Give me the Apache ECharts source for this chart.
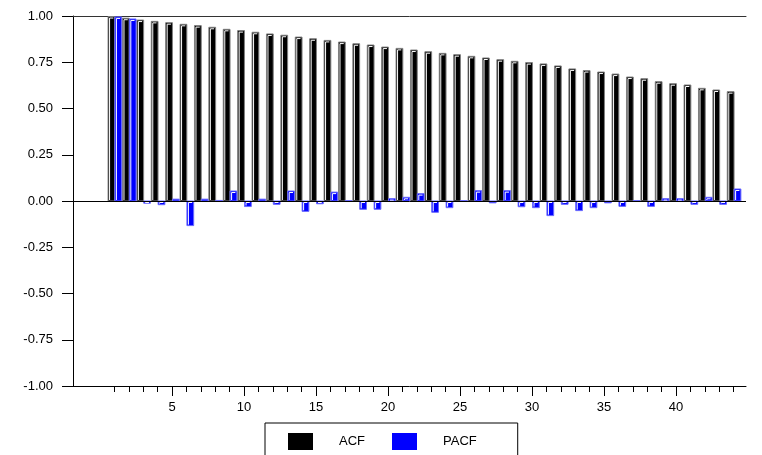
<!DOCTYPE html>
<html>
<head>
<meta charset="utf-8">
<script src="https://cdn.jsdelivr.net/npm/echarts@6/dist/echarts.min.js"></script>
<style>html,body{margin:0;padding:0;background:#fff}#c{width:762px;height:455px}</style>
</head>
<body>
<div id="c"></div>
<script>
const lags = [1,2,3,4,5,6,7,8,9,10,11,12,13,14,15,16,17,18,19,20,21,22,23,24,25,26,27,28,29,30,31,32,33,34,35,36,37,38,39,40,41,42,43,44];
const acfValues = [0.997,0.988,0.978,0.971,0.964,0.955,0.948,0.939,0.928,0.921,0.912,0.903,0.896,0.886,0.877,0.868,0.859,0.850,0.843,0.832,0.825,0.816,0.807,0.798,0.791,0.782,0.773,0.764,0.755,0.748,0.741,0.730,0.714,0.705,0.697,0.686,0.670,0.661,0.645,0.634,0.627,0.609,0.600,0.591];
const pacfValues = [0.995,0.984,-0.012,-0.02,0.01,-0.133,0.01,0.003,0.054,-0.03,0.01,-0.018,0.054,-0.056,-0.015,0.048,0.002,-0.045,-0.045,0.013,0.02,0.04,-0.061,-0.036,0.002,0.056,-0.01,0.056,-0.031,-0.036,-0.079,-0.018,-0.052,-0.036,-0.01,-0.029,0.002,-0.029,0.013,0.013,-0.018,0.02,-0.018,0.065];
const yTicks = [-1,-0.75,-0.5,-0.25,0,0.25,0.5,0.75,1];
const majorTickLabels = [5,10,15,20,25,30,35,40];

const FONT = 'Liberation Sans, Arial, sans-serif';
const chart = echarts.init(document.getElementById('c'), null, {renderer:'canvas'});

function makeRender(side, fill, stroke) {
  return function (params, api) {
    const lag = api.value(0), v = api.value(1);
    const base = api.coord([lag, 0]);
    const top = api.coord([lag, v]);
    const u = api.size([1, 0])[0];
    const w = 0.47 * u;
    const x0 = side < 0 ? base[0] - 0.44 * u : base[0] + 0.035 * u;
    const y0 = Math.min(base[1], top[1]);
    const h = Math.abs(top[1] - base[1]);
    const children = [
      {type:'rect', shape:{x:x0, y:y0, width:w, height:h}, style:{fill:fill, stroke:stroke, lineWidth:1}}
    ];
    if (h > 2) {
      children.push({type:'polyline', shape:{points:[[x0+1.5, y0+h-1],[x0+1.5, y0+1.5],[x0+w-1.5, y0+1.5]]},
        style:{stroke:'#ffffff', fill:null, lineWidth:1}});
    }
    return {type:'group', children:children};
  };
}

const xMin = -1.875, xMax = 44.86;

const option = {
  animation:false,
  backgroundColor:'#fff',
  grid:[
    {left:73, top:16, width:673, height:370, show:false},
    {left:114.4, top:16, width:619.2, height:370, show:false},
    {left:172, top:16, width:504, height:370, show:false}
  ],
  xAxis:[
    {gridIndex:0, type:'value', min:xMin, max:xMax, position:'bottom',
      axisLine:{show:true, onZero:false, lineStyle:{color:'#000', width:1}},
      axisTick:{show:false}, axisLabel:{show:false}, splitLine:{show:false}},
    {gridIndex:0, type:'value', min:xMin, max:xMax, position:'top',
      axisLine:{show:true, onZero:false, lineStyle:{color:'#333', width:1}},
      axisTick:{show:false}, axisLabel:{show:false}, splitLine:{show:false}},
    {gridIndex:1, type:'value', min:lags[0], max:lags[lags.length-1], interval:1, position:'bottom',
      axisLine:{show:false, onZero:false},
      axisTick:{show:true, length:6, lineStyle:{color:'#000', width:1}},
      axisLabel:{show:false}, splitLine:{show:false}},
    {gridIndex:2, type:'value', min:majorTickLabels[0], max:majorTickLabels[majorTickLabels.length-1], interval:5, position:'bottom',
      axisLine:{show:false, onZero:false},
      axisTick:{show:true, length:10, lineStyle:{color:'#000', width:1}},
      axisLabel:{show:true, margin:15, color:'#000', fontSize:13, fontFamily:FONT,
        formatter:function(v){ return majorTickLabels.indexOf(v) >= 0 ? String(v) : ''; }},
      splitLine:{show:false}}
  ],
  yAxis:[
    {gridIndex:0, type:'value', min:yTicks[0], max:yTicks[yTicks.length-1], interval:0.25,
      axisLine:{show:true, onZero:false, lineStyle:{color:'#000', width:1}},
      axisTick:{show:true, length:11, lineStyle:{color:'#000', width:1}},
      axisLabel:{show:true, margin:20, color:'#000', fontSize:13, fontFamily:FONT,
        formatter:function(v){ return v.toFixed(2); }},
      splitLine:{show:false}},
    {gridIndex:1, type:'value', min:-1, max:1, show:false},
    {gridIndex:2, type:'value', min:-1, max:1, show:false}
  ],
  legend:{
    data:['ACF','PACF'],
    left:265, top:423,
    orient:'horizontal',
    icon:'rect',
    itemWidth:25, itemHeight:17,
    itemGap:27,
    padding:[10,41,20,23],
    borderColor:'#000', borderWidth:1, borderRadius:0,
    backgroundColor:'#fff',
    itemStyle:{borderWidth:0},
    textStyle:{color:'#000', fontSize:13, fontFamily:FONT, padding:[0,0,0,21]},
    selectedMode:false
  },
  series:[
    {name:'ACF', type:'custom', xAxisIndex:0, yAxisIndex:0,
      renderItem:makeRender(-1, '#000000', '#808080'),
      itemStyle:{color:'#000000'},
      encode:{x:0, y:1},
      data:lags.map(function(l,i){ return [l, acfValues[i]]; }),
      markLine:{silent:true, symbol:['none','none'], label:{show:false},
        lineStyle:{color:'#000', width:1, type:'solid'}, data:[{yAxis:0}]},
      z:2},
    {name:'PACF', type:'custom', xAxisIndex:0, yAxisIndex:0,
      renderItem:makeRender(1, '#0000ff', '#6a6aff'),
      itemStyle:{color:'#0000ff'},
      encode:{x:0, y:1},
      data:lags.map(function(l,i){ return [l, pacfValues[i]]; }),
      z:3}
  ]
};
chart.setOption(option);
</script>
</body>
</html>
